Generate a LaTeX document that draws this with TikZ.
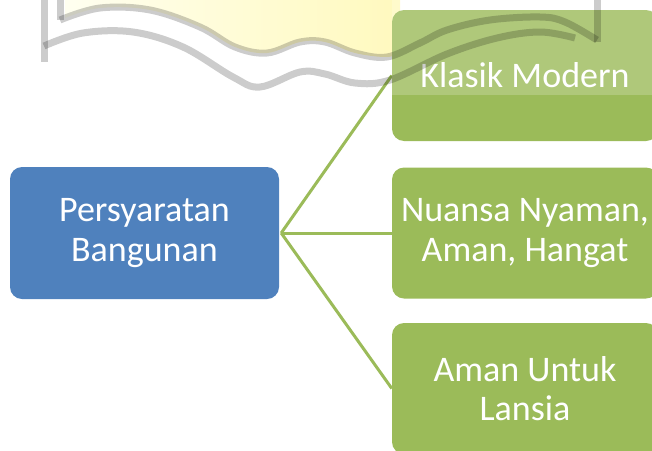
\documentclass[tikz,border=0pt]{standalone}
\usepackage{fontspec}
\setmainfont{Carlito}
\definecolor{pblue}{HTML}{4F81BD}
\definecolor{pgreen}{HTML}{9BBB59}
\definecolor{wmyelA}{HTML}{FFFFF0}
\definecolor{wmyelB}{HTML}{FFF9BE}
\tikzset{
  boxbase/.style={rounded corners=12pt, text=white, align=center, inner sep=0pt,
    font=\fontsize{36}{39.5}\selectfont},
  pbox/.style={boxbase, fill=pblue, minimum width=269pt, minimum height=132pt},
  gbox/.style={boxbase, fill=pgreen, minimum width=266pt, minimum height=131pt},
  conn/.style={draw=pgreen, line width=3pt},
  wmline/.style={draw=black, draw opacity=0.2, line width=7pt},
}
\begin{document}
\begin{tikzpicture}[x=1pt,y=-1pt]
\useasboundingbox (0,0) rectangle (652,450);
\clip (0,0) rectangle (652,450);
% watermark yellow area
\shade[left color=wmyelA, right color=wmyelB]
  (65,0) -- plot[smooth, tension=0.6] coordinates {(65,18) (100,8) (150,10) (200,27) (235,47) (267,53) (300,42) (325,42) (355,53) (387,57) (400,52)} -- (400,0) -- cycle;
% boxes
\node[pbox] (p) at (144.5,233) {Persyaratan\\Bangunan};
\node[gbox] (k) at (525,75.5) {Klasik Modern};
\node[gbox] (n) at (525,233) {Nuansa Nyaman,\\Aman, Hangat};
\node[gbox] (a) at (525,388.5) {Aman Untuk\\Lansia};
% connectors
\coordinate (hub) at ([xshift=2pt]p.east);
\draw[conn] (hub) -- (k.west);
\draw[conn] (hub) -- (n.west);
\draw[conn] (hub) -- (a.west);
% watermark overlay
\fill[white, fill opacity=0.2] (392,0) rectangle (652,95);
\draw[wmline] (44,0) -- (44,62);
\draw[wmline] (60,0) -- (60,20);
\draw[wmline] (597,0) -- (597,42);
\draw[wmline] plot[smooth, tension=0.6] coordinates {(60,20) (100,8) (150,10) (200,27) (235,47) (267,53) (300,42) (325,42) (355,53) (387,57) (420,43) (447,30) (490,20) (540,17) (565,22) (597,40)};
\draw[wmline] plot[smooth, tension=0.6] coordinates {(44,46) (83,33) (133,32) (183,47) (233,77) (260,87) (300,72) (325,74) (355,83) (390,80) (447,54) (497,38) (540,32) (575,38)};
\end{tikzpicture}
\end{document}
